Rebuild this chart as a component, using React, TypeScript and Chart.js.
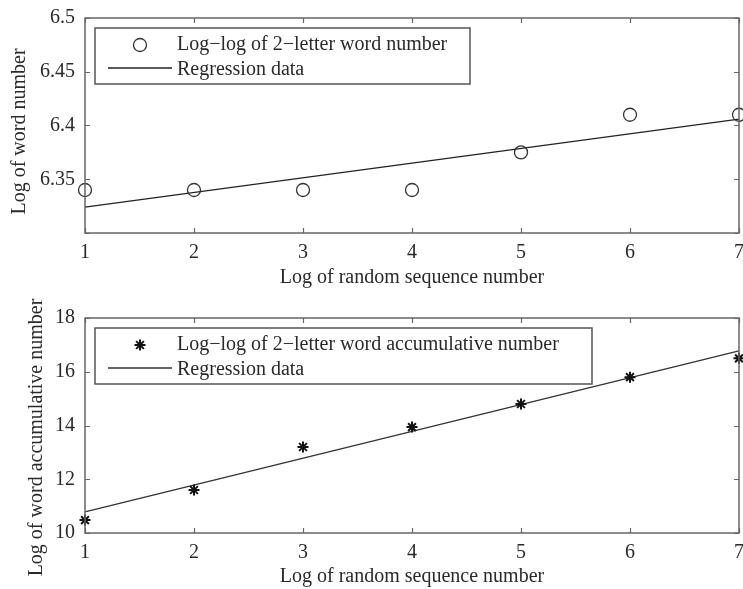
import React, { useEffect, useRef } from "react";
import { Chart, registerables } from "chart.js";

Chart.register(...registerables);

// ---- data ----
const sequenceLog = [1, 2, 3, 4, 5, 6, 7];
const wordNumberLog = [6.34, 6.34, 6.34, 6.34, 6.375, 6.41, 6.41];
const fitX = [1, 7];
const wordNumberFit = [6.324, 6.406];
const accumulativeLog = [10.48, 11.6, 13.2, 13.94, 14.8, 15.8, 16.5];
const accumulativeFit = [10.79, 16.78];

const xTickValues = [1, 2, 3, 4, 5, 6, 7];
const xTickLabels = ["1", "2", "3", "4", "5", "6", "7"];
const topYTickValues = [6.3, 6.35, 6.4, 6.45, 6.5];
const topYTickLabels = ["", "6.35", "6.4", "6.45", "6.5"];
const bottomYTickValues = [10, 12, 14, 16, 18];
const bottomYTickLabels = ["10", "12", "14", "16", "18"];

const topLabels = ["Log\u2212log of 2\u2212letter word number", "Regression data"];
const bottomLabels = ["Log\u2212log of 2\u2212letter word accumulative number", "Regression data"];
const xTitle = "Log of random sequence number";
const topYTitle = "Log of word number";
const bottomYTitle = "Log of word accumulative number";

const FONT = "'Liberation Serif', 'Times New Roman', serif";
const TEXT = "#2a2a2a";

const framePlugin = {
  id: "frame",
  afterDatasetsDraw(chart: any) {
    const { ctx, chartArea } = chart;
    const { left, right, top, bottom } = chartArea;
    const x = chart.scales.x;
    const y = chart.scales.y;
    ctx.save();
    ctx.strokeStyle = "#666";
    ctx.lineWidth = 1.5;
    ctx.strokeRect(left, top, right - left, bottom - top);
    const L = 5;
    ctx.beginPath();
    x.ticks.forEach((t: any) => {
      const px = Math.round(x.getPixelForValue(t.value)) + 0.5;
      ctx.moveTo(px, bottom);
      ctx.lineTo(px, bottom - L);
      ctx.moveTo(px, top);
      ctx.lineTo(px, top + L);
    });
    y.ticks.forEach((t: any) => {
      const py = Math.round(y.getPixelForValue(t.value)) + 0.5;
      ctx.moveTo(left, py);
      ctx.lineTo(left + L, py);
      ctx.moveTo(right, py);
      ctx.lineTo(right - L, py);
    });
    ctx.lineWidth = 1.2;
    ctx.stroke();
    ctx.restore();
  },
};

const yTitlePlugin = {
  id: "yTitle",
  afterDraw(chart: any, _args: any, opts: any) {
    const { ctx, chartArea } = chart;
    ctx.save();
    ctx.translate(opts.x, (chartArea.top + chartArea.bottom) / 2 + opts.dy);
    ctx.rotate(-Math.PI / 2);
    ctx.fillStyle = TEXT;
    ctx.font = `20px ${FONT}`;
    ctx.textAlign = "center";
    ctx.textBaseline = "middle";
    ctx.fillText(opts.text, 0, 0);
    ctx.restore();
  },
};

const legendPlugin = {
  id: "boxLegend",
  afterDraw(chart: any, _args: any, opts: any) {
    const { ctx, chartArea } = chart;
    const bx = chartArea.left + 10;
    const by = chartArea.top + 10;
    const bw = opts.width;
    const bh = 56;
    ctx.save();
    ctx.fillStyle = "#fff";
    ctx.fillRect(bx, by, bw, bh);
    ctx.strokeStyle = "#555";
    ctx.lineWidth = 1.5;
    ctx.strokeRect(bx, by, bw, bh);
    const ds = chart.data.datasets;
    const rows = [by + 17, by + 42];
    const markerX = bx + 45;
    const textX = bx + 82;
    const d0 = ds[0];
    ctx.strokeStyle = d0.borderColor;
    ctx.lineWidth = d0.borderWidth;
    if (d0.pointStyle === "circle") {
      ctx.beginPath();
      ctx.arc(markerX, rows[0], d0.pointRadius, 0, Math.PI * 2);
      ctx.stroke();
    } else {
      const r = d0.pointRadius;
      ctx.beginPath();
      for (let i = 0; i < 4; i++) {
        const a = (i * Math.PI) / 4;
        ctx.moveTo(markerX - Math.cos(a) * r, rows[0] - Math.sin(a) * r);
        ctx.lineTo(markerX + Math.cos(a) * r, rows[0] + Math.sin(a) * r);
      }
      ctx.stroke();
    }
    const d1 = ds[1];
    ctx.strokeStyle = d1.borderColor;
    ctx.lineWidth = d1.borderWidth;
    ctx.beginPath();
    ctx.moveTo(bx + 13, rows[1] - 2);
    ctx.lineTo(bx + 77, rows[1] - 2);
    ctx.stroke();
    ctx.fillStyle = TEXT;
    ctx.font = `20px ${FONT}`;
    ctx.textBaseline = "middle";
    ctx.textAlign = "left";
    ctx.fillText(d0.label, textX, rows[0]);
    ctx.fillText(d1.label, textX, rows[1]);
    ctx.restore();
  },
};

type PanelProps = {
  top: number;
  height: number;
  padTop: number;
  xHeight: number;
  yMin: number;
  yMax: number;
  yTickValues: number[];
  yTickLabels: string[];
  yTitle: string;
  yTitleX: number;
  yTitleDy: number;
  values: number[];
  fit: number[];
  labels: string[];
  pointStyle: string;
  pointRadius: number;
  markerWidth: number;
  markerColor: string;
  lineColor: string;
  legendWidth: number;
};

function Panel(p: PanelProps) {
  const ref = useRef<HTMLCanvasElement>(null);
  useEffect(() => {
    if (!ref.current) return;
    const chart = new Chart(ref.current, {
      type: "scatter",
      data: {
        datasets: [
          {
            label: p.labels[0],
            data: sequenceLog.map((x, i) => ({ x, y: p.values[i] })),
            showLine: false,
            pointStyle: p.pointStyle as any,
            pointRadius: p.pointRadius,
            pointHoverRadius: p.pointRadius,
            borderColor: p.markerColor,
            backgroundColor: "rgba(0,0,0,0)",
            borderWidth: p.markerWidth,
            clip: false as any,
          },
          {
            label: p.labels[1],
            data: fitX.map((x, i) => ({ x, y: p.fit[i] })),
            showLine: true,
            pointRadius: 0,
            borderColor: p.lineColor,
            backgroundColor: p.lineColor,
            borderWidth: 1.3,
            clip: false as any,
          },
        ],
      } as any,
      options: {
        animation: false,
        responsive: false,
        devicePixelRatio: 1,
        layout: { autoPadding: false, padding: { top: p.padTop, right: 4, left: 0, bottom: 0 } },
        plugins: {
          legend: { display: false },
          tooltip: { enabled: false },
          boxLegend: { width: p.legendWidth },
          yTitle: { text: p.yTitle, x: p.yTitleX, dy: p.yTitleDy },
        } as any,
        scales: {
          x: {
            type: "linear",
            min: 1,
            max: 7,
            grid: { display: false, drawTicks: false },
            border: { display: false },
            afterBuildTicks: (s: any) => {
              s.ticks = xTickValues.map((v) => ({ value: v }));
            },
            afterFit: (s: any) => {
              s.height = p.xHeight;
              s.paddingLeft = 0;
              s.paddingRight = 0;
            },
            ticks: {
              padding: 8,
              color: TEXT,
              font: { family: FONT, size: 20 },
              maxRotation: 0,
              autoSkip: false,
              callback: (v: any) => {
                const i = xTickValues.indexOf(Number(v));
                return i >= 0 ? xTickLabels[i] : "";
              },
            },
            title: {
              display: true,
              text: xTitle,
              color: TEXT,
              font: { family: FONT, size: 20 },
              padding: { top: 0, bottom: 0 },
            },
          },
          y: {
            type: "linear",
            min: p.yMin,
            max: p.yMax,
            grid: { display: false, drawTicks: false },
            border: { display: false },
            afterBuildTicks: (s: any) => {
              s.ticks = p.yTickValues.map((v) => ({ value: v }));
            },
            afterFit: (s: any) => {
              s.width = 85;
              s.paddingTop = 0;
              s.paddingBottom = 0;
            },
            ticks: {
              padding: 10,
              color: TEXT,
              font: { family: FONT, size: 20 },
              autoSkip: false,
              callback: (v: any) => {
                const i = p.yTickValues.findIndex((t) => Math.abs(t - Number(v)) < 1e-9);
                return i >= 0 ? p.yTickLabels[i] : "";
              },
            },
            title: { display: false },
          },
        },
      } as any,
      plugins: [framePlugin, legendPlugin, yTitlePlugin],
    });
    return () => chart.destroy();
  }, []);
  return (
    <canvas
      ref={ref}
      width={743}
      height={p.height}
      style={{ display: "block", position: "absolute", left: 0, top: p.top }}
    />
  );
}

export default function App() {
  return (
    <div style={{ position: "absolute", left: 0, top: 0, width: 743, height: 589, background: "#fff" }}>
      <Panel
        top={0}
        height={290}
        padTop={18}
        xHeight={57}
        yMin={6.3}
        yMax={6.5}
        yTickValues={topYTickValues}
        yTickLabels={topYTickLabels}
        yTitle={topYTitle}
        yTitleX={20}
        yTitleDy={6}
        values={wordNumberLog}
        fit={wordNumberFit}
        labels={topLabels}
        pointStyle="circle"
        pointRadius={6.5}
        markerWidth={1.3}
        markerColor="#333"
        lineColor="#222"
        legendWidth={375}
      />
      <Panel
        top={270}
        height={319}
        padTop={48}
        xHeight={56}
        yMin={10}
        yMax={18}
        yTickValues={bottomYTickValues}
        yTickLabels={bottomYTickLabels}
        yTitle={bottomYTitle}
        yTitleX={37}
        yTitleDy={12}
        values={accumulativeLog}
        fit={accumulativeFit}
        labels={bottomLabels}
        pointStyle="star"
        pointRadius={5.5}
        markerWidth={2}
        markerColor="#111"
        lineColor="#333"
        legendWidth={497}
      />
    </div>
  );
}
